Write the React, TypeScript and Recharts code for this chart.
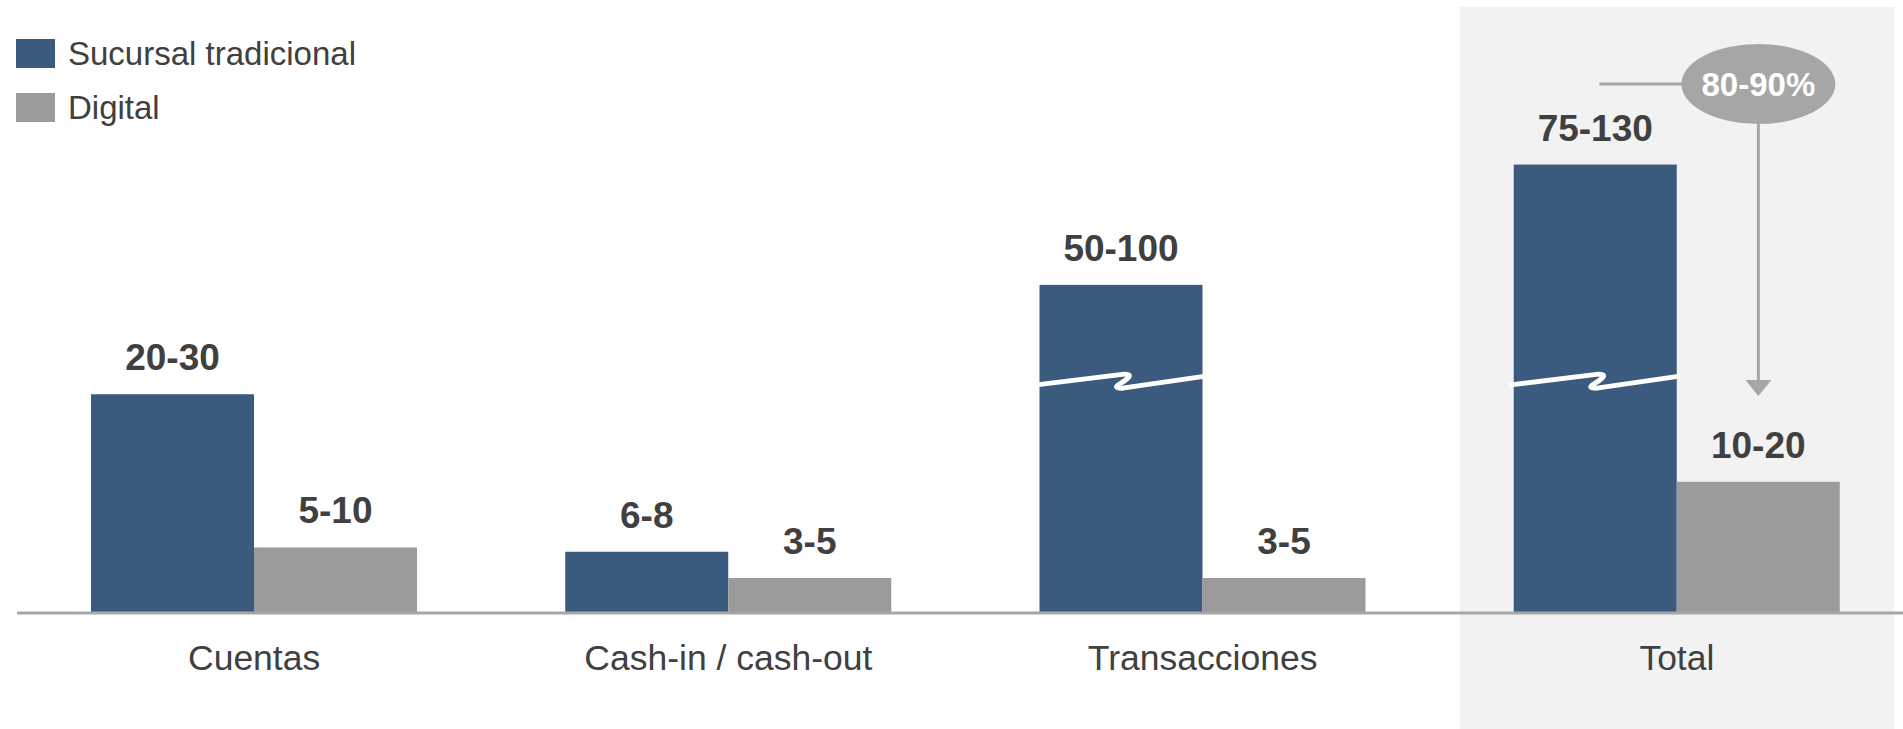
import { Bar, BarChart, LabelList, Legend, ReferenceArea, XAxis, YAxis } from "recharts"

const categorias = ["Cuentas", "Cash-in / cash-out", "Transacciones", "Total"]
// altura dibujada = punto medio del rango; las barras con corte van a media escala
const sucursal = [25, 7, 37.5, 51.25]
const digital = [7.5, 4, 4, 15]
const etiquetasSucursal = ["20-30", "6-8", "50-100", "75-130"]
const etiquetasDigital = ["5-10", "3-5", "3-5", "10-20"]
const cortes = [null, null, 26.5, 26.5]
const series = ["Sucursal tradicional", "Digital"]
const reduccion = "80-90%"

const AZUL = "#3b5b7e"
const GRIS = "#9b9b9b"
const LINEA = "#a6a6a6"
const TEXTO = "#404040"
const FUENTE = '"Liberation Sans", Arial, sans-serif'
const ANCHO_BARRA = 163

const data = categorias.map((c, i) => ({
  categoria: c,
  sucursal: sucursal[i],
  digital: digital[i],
  etSucursal: etiquetasSucursal[i],
  etDigital: etiquetasDigital[i],
  corte: cortes[i],
}))

const BarraSucursal = (props: any) => {
  const { x, y, width, height, fill, payload } = props
  const corte = payload?.corte
  let d: string | null = null
  if (corte != null && height > 0) {
    const yb = y + height - (corte * height) / payload.sucursal
    const w = width
    d = `M ${x - 5} ${yb + 4} L ${x + 0.52 * w} ${yb - 7} Q ${x + 0.59 * w} ${yb - 7} ${x + 0.5 * w} ${yb + 2} Q ${x + 0.44 * w} ${yb + 7} ${x + 0.51 * w} ${yb + 7} L ${x + w + 3} ${yb - 5}`
  }
  return (
    <g>
      <rect x={x} y={y} width={width} height={height} fill={fill} />
      {d && <path d={d} stroke="#fff" strokeWidth={5} fill="none" strokeLinejoin="round" />}
    </g>
  )
}

const etiqueta = (props: any) => {
  const { x, y, width, value } = props
  return (
    <text x={x + width / 2} y={y - 24} textAnchor="middle" fontFamily={FUENTE} fontWeight="bold" fontSize={37} fill={TEXTO}>
      {value}
    </text>
  )
}

const ZonaTotal = (props: any) => {
  const { x, width } = props
  const cx = x + width / 2
  const xAzul = cx - ANCHO_BARRA / 2
  const xGris = cx + ANCHO_BARRA / 2
  return (
    <g>
      <rect x={cx - 217} y={7} width={434} height={722} fill="#f2f2f2" />
      <line x1={xAzul + 4} y1={84} x2={xGris - 70} y2={84} stroke={LINEA} strokeWidth={3} />
      <line x1={xGris} y1={120} x2={xGris} y2={382} stroke={LINEA} strokeWidth={3} />
      <polygon points={`${xGris - 13},380 ${xGris + 13},380 ${xGris},396`} fill={LINEA} />
      <ellipse cx={xGris} cy={84} rx={77} ry={40} fill={LINEA} />
      <text x={xGris} y={96} textAnchor="middle" fill="#fff" fontWeight="bold" fontSize={33} fontFamily={FUENTE}>
        {reduccion}
      </text>
    </g>
  )
}

const Tick = (props: any) => (
  <text x={props.x} y={props.y + 57} textAnchor="middle" fontSize={35.5} fill={TEXTO} fontFamily={FUENTE}>
    {props.payload.value}
  </text>
)

const Leyenda = ({ payload }: any) => {
  const items = [...(payload || [])].sort((a: any, b: any) => series.indexOf(a.value) - series.indexOf(b.value))
  return (
    <div style={{ fontFamily: FUENTE, color: TEXTO, fontSize: 33 }}>
      {items.map((entry: any, i: number) => (
        <div key={entry.value} style={{ display: "flex", alignItems: "center", height: 29, marginTop: i ? 25 : 0 }}>
          <span style={{ width: 39, height: 29, background: entry.color, marginRight: 13, flex: "none" }} />
          <span style={{ lineHeight: "29px", whiteSpace: "nowrap" }}>{entry.value}</span>
        </div>
      ))}
    </div>
  )
}

export default function App() {
  return (
    <div style={{ position: "absolute", left: 0, top: 0, width: 1903, height: 729, overflow: "hidden", background: "#fff" }}>
      <BarChart
        width={1920}
        height={729}
        data={data}
        margin={{ top: 88, right: 6, bottom: 86, left: 17 }}
        barSize={ANCHO_BARRA}
        barGap={0}
      >
        <ReferenceArea x1="Total" x2="Total" shape={ZonaTotal} ifOverflow="visible" />
        <XAxis
          dataKey="categoria"
          height={30}
          axisLine={{ stroke: LINEA, strokeWidth: 3 }}
          tickLine={false}
          tickSize={0}
          tickMargin={0}
          tick={Tick}
          interval={0}
        />
        <YAxis hide domain={[0, 60]} />
        <Legend
          layout="horizontal"
          verticalAlign="middle"
          align="center"
          content={Leyenda}
          wrapperStyle={{ top: 39, left: 16, width: "auto" }}
        />
        <Bar dataKey="sucursal" name={series[0]} fill={AZUL} shape={BarraSucursal} isAnimationActive={false}>
          <LabelList dataKey="etSucursal" content={etiqueta} />
        </Bar>
        <Bar dataKey="digital" name={series[1]} fill={GRIS} isAnimationActive={false}>
          <LabelList dataKey="etDigital" content={etiqueta} />
        </Bar>
      </BarChart>
    </div>
  )
}
